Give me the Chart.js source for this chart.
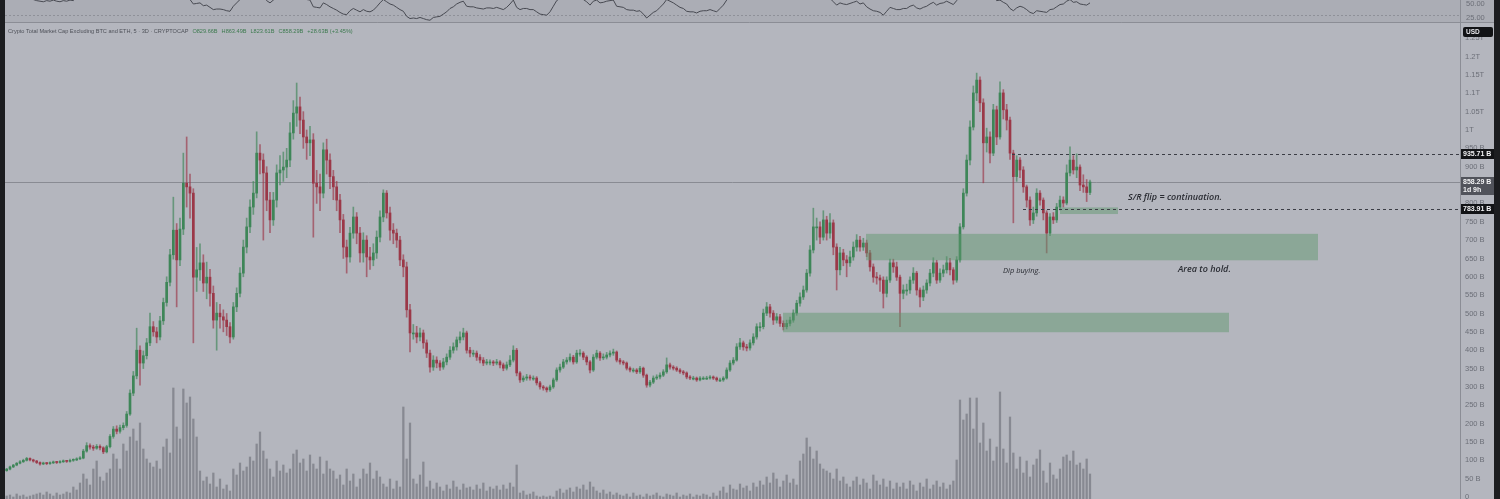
<!DOCTYPE html>
<html><head><meta charset="utf-8">
<script src="https://cdn.jsdelivr.net/npm/chart.js@4.4.1/dist/chart.umd.min.js"></script>
<style>
html,body{margin:0;padding:0;background:#1c1d20;width:1500px;height:499px;overflow:hidden;}
#rsi{position:absolute;left:5px;top:0;}
#main{position:absolute;left:5px;top:23px;}
</style></head><body>
<canvas id="rsi" width="1489" height="23"></canvas>
<canvas id="main" width="1489" height="476"></canvas>
<script>
// ---- data (billions USD), one 3D candle per entry ----
const opens = [72,76,82,87,92,96,100,105,101,98,
94,90,92,91,93,95,94,96,98,97,
100,101,104,106,125,140,136,133,138,134,
123,137,165,185,179,189,195,226,283,330,
400,365,385,420,464,450,436,480,530,585,
660,727,646,730,855,845,828,599,619,638,
583,599,555,482,501,491,482,464,436,518,
555,610,681,736,790,828,937,918,883,809,
755,809,883,891,899,918,992,1046,1063,1027,
981,965,973,855,845,828,946,918,873,845,
809,755,681,654,719,763,719,665,700,654,
646,665,708,763,828,774,727,719,700,646,
627,510,447,447,436,447,420,392,354,373,
365,354,368,381,400,409,428,436,447,400,
392,392,381,373,365,368,368,365,368,360,
351,360,373,400,338,319,324,327,324,324,
311,300,297,292,300,319,346,354,368,373,
381,368,392,392,381,368,346,381,392,379,
381,387,392,395,373,368,365,351,346,346,
341,351,332,305,313,324,327,332,341,360,
354,351,346,341,338,327,324,324,319,324,
324,324,327,324,319,319,324,346,365,373,
409,420,409,406,420,436,464,464,501,518,
501,482,491,473,464,473,482,501,528,545,
564,610,673,736,736,708,755,719,747,681,
619,665,646,638,654,681,700,681,692,665,
627,599,597,591,555,591,638,627,599,555,
564,564,591,610,564,545,564,583,610,638,
591,610,619,638,619,591,646,736,828,918,
1008,1101,1136,1074,965,981,937,1055,981,1101,
1055,1027,937,873,918,891,845,809,755,774,
828,809,774,719,763,755,790,809,801,883,
918,891,899,850,845,829.66];

const closes = [76,82,87,92,96,100,105,101,98,94,
90,92,91,93,95,94,96,98,97,100,
101,104,106,125,140,136,133,138,134,123,
137,165,185,179,189,195,226,283,330,400,
365,385,420,464,450,436,480,530,585,660,
727,646,730,855,845,828,599,619,638,583,
599,555,482,501,491,482,464,436,518,555,
610,681,736,790,828,937,918,883,809,755,
809,883,891,899,918,992,1046,1063,1027,981,
965,973,855,845,828,946,918,873,845,809,
755,681,654,719,763,719,665,700,654,646,
665,708,763,828,774,727,719,700,646,627,
510,447,447,436,447,420,392,354,373,365,
354,368,381,400,409,428,436,447,400,392,
392,381,373,365,368,368,365,368,360,351,
360,373,400,338,319,324,327,324,324,311,
300,297,292,300,319,346,354,368,373,381,
368,392,392,381,368,346,381,392,379,381,
387,392,395,373,368,365,351,346,346,341,
351,332,305,313,324,327,332,341,360,354,
351,346,341,338,327,324,324,319,324,324,
324,327,324,319,319,324,346,365,373,409,
420,409,406,420,436,464,464,501,518,501,
482,491,473,464,473,482,501,528,545,564,
610,673,736,736,708,755,719,747,681,619,
665,646,638,654,681,700,681,692,665,627,
599,597,591,555,591,638,627,599,555,564,
564,591,610,564,545,564,583,610,638,591,
610,619,638,619,591,646,736,828,918,1008,
1101,1136,1074,965,981,937,1055,981,1101,1055,
1027,937,873,918,891,845,809,755,774,828,
809,774,719,763,755,790,809,801,883,918,
891,899,850,845,829.66,858.29];

const highs = [78,84,89,94,99,103,108,107,103,100,
96,95,94,96,98,97,99,101,100,103,
104,107,110,130,148,145,141,143,142,137,
141,170,192,194,196,202,233,292,342,460,
412,398,432,501,478,462,492,542,600,675,
817,745,760,937,981,880,840,680,690,660,
640,620,575,530,525,510,500,475,530,570,
625,700,760,810,860,995,960,935,900,830,
830,905,930,940,950,1020,1080,1128,1090,1050,
1000,1010,990,890,880,965,975,935,890,860,
825,770,700,735,790,775,735,720,712,680,
690,725,780,837,835,790,745,730,710,660,
640,525,470,465,460,455,428,400,385,382,
372,378,390,410,420,436,450,460,452,408,
400,398,388,380,375,374,372,375,372,365,
368,385,412,405,342,330,334,332,330,328,
315,304,300,305,324,352,362,375,380,390,
386,400,402,396,385,372,388,400,396,390,
394,398,403,398,378,372,368,355,351,350,
356,354,335,318,330,333,338,347,379,365,
358,355,350,345,341,331,329,327,328,328,
329,331,330,327,324,328,352,372,380,418,
432,425,416,428,445,472,475,512,530,525,
508,500,498,480,482,490,510,536,556,575,
620,685,787,760,750,780,765,772,755,690,
680,675,658,670,695,715,710,705,700,672,
635,612,605,600,600,648,648,640,605,578,
580,600,625,615,570,575,592,620,652,645,
622,632,655,650,625,655,745,840,932,1025,
1120,1155,1145,1085,1005,995,1070,1065,1131,1110,
1070,1035,945,930,925,900,850,818,790,840,
835,815,780,772,775,800,820,818,905,954,
930,935,905,878,865,863.49];

const lows = [70,74,80,85,90,94,98,98,95,91,
87,88,88,89,91,91,92,94,94,95,
97,99,102,104,122,130,127,130,128,118,
120,134,160,172,174,183,190,222,276,322,
305,350,376,412,438,420,428,470,520,575,
648,518,630,715,790,760,420,560,590,560,
540,520,460,400,460,450,440,420,430,505,
545,600,665,720,770,815,880,700,780,720,
740,790,850,860,870,900,975,1010,990,950,
920,930,708,800,780,815,880,840,810,780,
720,650,610,640,705,690,640,640,600,620,
630,650,695,750,760,700,690,680,630,600,
490,395,430,420,425,405,380,340,345,352,
345,348,360,375,392,400,420,428,392,382,
383,372,365,358,360,360,358,360,352,344,
346,355,368,330,312,314,318,318,318,305,
294,291,286,288,296,315,340,350,362,368,
362,364,384,374,360,338,342,376,372,374,
376,382,386,368,362,360,346,341,340,336,
337,326,299,300,309,320,322,328,337,348,
346,342,337,333,322,320,319,315,316,320,
320,321,320,315,314,315,321,342,360,370,
402,400,398,400,414,430,452,458,494,490,
470,474,465,455,458,466,476,495,520,538,
558,602,665,700,690,700,700,705,660,564,
605,630,600,628,645,670,670,672,655,615,
585,580,560,515,545,585,612,590,464,540,
550,555,582,550,518,535,555,575,600,582,
585,600,610,605,580,585,640,730,820,905,
1000,1080,1050,856,940,910,930,960,975,1030,
1000,920,747,860,870,830,790,740,745,765,
795,755,665,712,745,748,782,790,796,875,
880,870,835,830,805,823.61];

const volumes = [3,4,2,5,3,4,2,3,4,
5,6,4,7,5,3,6,4,5,7,6,
12,9,16, 25,20,14, 30,38,22, 18,26,30, 45,40,30, 55,48,62, 70,58,76,
50,40,36, 32,38,30, 52,60,46, 111,72,60, 110,96,102, 80,62,
28,18,22,15,26, 12,20,10,14,8, 30,24,36,28,32, 42,38,55, 67,48,
40,30,22,38,28,34,26,30, 45,49,36, 40,28,44,35,30,42,25,38,30,
28,20,24,14,30,18,25,12,20, 30,25,36,20,28,22, 15,12,20,10,18,12,
92,40,76, 20,15,24,37,12,18, 10,16,12,8,14,10,18,12,9,15,11,
12,9,14,10,16,8,12,10,13,9, 14,10,16,12,34, 6,8,4,5,7,3,
2,3,2,3,2, 8,10,6,9,11,7, 12,10,14,9,17,12, 8,6,9,5,7,4,6,
4,3,5,2,6,3,4,2,5,3,4,6,3,2,5,4,3,6,2,4,3,5,2,4,3,5,4,2,6,3,
8,12,6,14,10,9,15,11,13,8,16,12, 18,14,22,16,26,20,12,18,24,16,20,14,
38,45,61,52,40,48,35,30,28, 26,20,30,18,22,15, 12,18,22,14,20,16,10,24,18,
14,20,12,18,10,16, 12,16,10,18,14,8,16,12,20,10,14,18,12,16,10,14,18,
39, 99,79, 85,101,70,101,56, 76,48,60,38,52, 107,50, 36,82,46,
30,42,26,38,22,34, 40,49,28,16,36,24, 20,30,42, 44,38,48,34, 36,30,40,25];

const rsi = [60,62,63,64,62,63,65,60,58,
56,55,54,56,55,57,55,54,56,55,57,56,
62,64,68,72,70,66,68,65,60,70,75,80,78,80,82,85,88,90,82,78,80,83,80,79,81,84,86,88,84,80,82,78,77,74,
58,50,51,52,47,48,44,40,41,41,40,38,37,46,52,58,
64,70,74,77,72,68,62,
56,52,57,
61,63,64,66,70,74,75,71,66,
58,57,45,44,43,52,49,45,42,39,35,32,31,38,42,39,36,40,37,36,39,45,52,58,
54,50,48,44,40,37,28,24,25,24,26,24,22,21,26,27,28,32,36,42,45,50,53,55,46,45,45,43,42,41,43,43,42,44,42,40,44,50,57,44,40,42,42,40,40,36,32,31,30,36,46,56,
60,62,65,66,62,68,68,
58,
54,48,55,57,52,53,55,56,57,46,45,44,40,39,39,37,38,32,25,30,35,38,44,50,58,55,52,48,44,42,37,36,36,34,37,38,38,40,38,36,42,48,57,
62,66,70,72,68,67,70,72,76,76,78,80,76,72,73,70,68,70,72,76,78,80,82,85,86,84,80,82,76,79,
60,54,48,52,50,49,51,53,55,50,52,45,41,38,37,35,30,37,44,42,40,40,42,42,46,48,43,41,44,46,50,53,48,51,52,55,52,49,56,
66,74,80,85,88,89,82,72,68,64,
62,
56,57,53,50,42,38,43,46,44,40,35,33,38,37,36,35,40,41,45,49,50,55,58,53,54,50,49,48,52];

// price-axis ticks (B)
const priceTicks = [0,50,100,150,200,250,300,350,400,450,500,550,600,650,700,750,800,850,900,950,1000,1050,1100,1150,1200,1250];
const rsiTicks = [25, 50];
const rsiLevel = 30;

// drawn zones (candle index range, value range in B)
const zoneStart = [257.8, 232.9, 316];
const zoneEnd = [393.4, 366.7, 333.4];
const zoneTop = [717, 502, 789];
const zoneBottom = [645, 449, 771];

// dashed levels
const levelValues = [935.71, 783.91];
const levelStart = [301.6, 304.9];

// notes
const noteTexts = ['S/R flip = continuation.', 'Area to hold.', 'Dip buying.'];
const noteX = [336.4, 351.4, 298.9];
const noteV = [817, 621, 616];

const lastClose = closes[closes.length - 1];

// ---- styles ----
const BG = '#b4b6be';
const RSI_BG = '#abadb5';
const GREEN = '#3e8658';
const RED = '#9b3848';
const GREEN_W = 'rgba(62,134,88,0.65)';
const RED_W = 'rgba(155,56,72,0.65)';
const ZONE = 'rgba(95,150,108,0.48)';
const AXIS_TXT = '#6c6f78';
const FONT = '"Liberation Sans", Arial, sans-serif';

const idx = closes.map((_, i) => i);
const up = i => closes[i] >= opens[i];

function fmtPrice(v) {
  if (v >= 1000) return (v / 1000) + 'T';
  if (v === 0) return '0';
  return v + ' B';
}

const overlay = {
  id: 'overlay',
  beforeDraw(chart) {
    const {ctx, width, height} = chart;
    ctx.save();
    ctx.fillStyle = BG;
    ctx.fillRect(0, 0, width, height);
    ctx.restore();
  },
  beforeDatasetsDraw(chart) {
    const {ctx, chartArea: a, scales: {y}} = chart;
    const py = Math.round(y.getPixelForValue(lastClose)) + 0.5;
    ctx.save();
    ctx.strokeStyle = 'rgba(132,134,142,0.9)';
    ctx.lineWidth = 1;
    ctx.beginPath(); ctx.moveTo(a.left, py); ctx.lineTo(a.right, py); ctx.stroke();
    ctx.restore();
  },
  afterDatasetsDraw(chart) {
    const {ctx, chartArea: a, scales: {x, y}} = chart;
    ctx.save();
    ctx.fillStyle = ZONE;
    zoneStart.forEach((s, k) => {
      const x0 = x.getPixelForValue(s), x1 = x.getPixelForValue(zoneEnd[k]);
      const y0 = y.getPixelForValue(zoneTop[k]), y1 = y.getPixelForValue(zoneBottom[k]);
      ctx.fillRect(x0, y0, x1 - x0, y1 - y0);
    });
    ctx.strokeStyle = '#3b3d45';
    ctx.lineWidth = 1;
    ctx.setLineDash([3, 3]);
    levelValues.forEach((v, k) => {
      const py = Math.round(y.getPixelForValue(v)) + 0.5;
      ctx.beginPath(); ctx.moveTo(x.getPixelForValue(levelStart[k]), py); ctx.lineTo(a.right, py); ctx.stroke();
    });
    ctx.setLineDash([]);
    ctx.fillStyle = '#2a2c33';
    ctx.textBaseline = 'middle';
    ctx.textAlign = 'left';
    noteTexts.forEach((t, k) => {
      ctx.font = k < 2 ? 'italic 600 9px "Open Sans", sans-serif' : 'italic 400 7.5px "Open Sans", sans-serif';
      ctx.fillText(t, x.getPixelForValue(noteX[k]), y.getPixelForValue(noteV[k]));
    });
    ctx.restore();
  },
  afterDraw(chart) {
    const {ctx, chartArea: a, scales: {y}} = chart;
    ctx.save();
    ctx.strokeStyle = '#8b8d95';
    ctx.lineWidth = 1;
    ctx.beginPath(); ctx.moveTo(a.right + 0.5, 0); ctx.lineTo(a.right + 0.5, chart.height); ctx.stroke();
    ctx.fillStyle = AXIS_TXT;
    ctx.font = '7.5px ' + FONT;
    ctx.textAlign = 'left';
    ctx.textBaseline = 'middle';
    priceTicks.forEach(v => {
      const py = y.getPixelForValue(v);
      if (py > 2 && py < chart.height + 4) ctx.fillText(fmtPrice(v), a.right + 5, py);
    });
    const tag = (v, fill, lines) => {
      const py = Math.round(y.getPixelForValue(v));
      const h = lines.length === 1 ? 10 : 18;
      ctx.fillStyle = fill;
      ctx.fillRect(a.right + 1, py - 5, 33, h);
      ctx.fillStyle = '#f2f2f4';
      ctx.font = 'bold 7px ' + FONT;
      lines.forEach((t, k) => ctx.fillText(t, a.right + 3, py + k * 8));
    };
    tag(levelValues[0], '#121316', [levelValues[0].toFixed(2) + ' B']);
    tag(lastClose, '#51535b', [lastClose.toFixed(2) + ' B', '1d 9h']);
    tag(levelValues[1], '#121316', [levelValues[1].toFixed(2) + ' B']);
    ctx.fillStyle = '#121316';
    ctx.beginPath();
    if (ctx.roundRect) ctx.roundRect(a.right + 3, 4, 30, 10, 2); else ctx.rect(a.right + 3, 4, 30, 10);
    ctx.fill();
    ctx.fillStyle = '#e8e8ec';
    ctx.font = 'bold 6.5px ' + FONT;
    ctx.fillText('USD', a.right + 6, 9.5);
    ctx.font = '5.6px ' + FONT;
    ctx.fillStyle = '#4e5159';
    let tx = 3;
    const title = 'Crypto Total Market Cap Excluding BTC and ETH, 5 \u00b7 3D \u00b7 CRYPTOCAP';
    ctx.fillText(title, tx, 8);
    tx += ctx.measureText(title).width + 4;
    ctx.fillStyle = '#3d7a4f';
    const o = opens[opens.length - 1], h = highs[highs.length - 1], l = lows[lows.length - 1], c = lastClose;
    const parts = ['O' + o.toFixed(2) + 'B', 'H' + h.toFixed(2) + 'B', 'L' + l.toFixed(2) + 'B', 'C' + c.toFixed(2) + 'B',
      '+' + (c - o).toFixed(2) + 'B (+' + ((c - o) / o * 100).toFixed(2) + '%)'];
    parts.forEach(p => { ctx.fillText(p, tx, 8); tx += ctx.measureText(p).width + 4; });
    ctx.restore();
  }
};

new Chart(document.getElementById('main'), {
  type: 'bar',
  data: {
    datasets: [
      {label: 'body', data: idx.map(i => ({x: i, y: [opens[i], closes[i]]})), order: 0, grouped: false,
       barThickness: 2, minBarLength: 1, backgroundColor: c => up(c.dataIndex) ? GREEN : RED, yAxisID: 'y'},
      {label: 'wick', data: idx.map(i => ({x: i, y: [lows[i], highs[i]]})), order: 1, grouped: false,
       barThickness: 1, backgroundColor: c => up(c.dataIndex) ? GREEN_W : RED_W, yAxisID: 'y'},
      {label: 'volume', data: idx.map(i => ({x: i, y: volumes[i]})), order: 2, grouped: false,
       barThickness: 1.6, backgroundColor: 'rgba(98,100,110,0.55)', yAxisID: 'v'}
    ]
  },
  options: {
    responsive: false, animation: false, devicePixelRatio: 1,
    layout: {padding: {top: 1, bottom: 0, left: 0, right: 34}},
    plugins: {legend: {display: false}, tooltip: {enabled: false}},
    scales: {
      x: {type: 'linear', min: -0.5, max: 436, offset: false, display: false},
      y: {type: 'linear', min: -5.45, max: 1288.8, display: false},
      v: {type: 'linear', min: 0, max: 475, display: false}
    }
  },
  plugins: [overlay]
});

const rsiPlugin = {
  id: 'rsiPanel',
  beforeDraw(chart) {
    const {ctx, width, height, chartArea: a, scales: {y}} = chart;
    ctx.save();
    ctx.fillStyle = RSI_BG;
    ctx.fillRect(0, 0, width, height);
    const py = Math.round(y.getPixelForValue(rsiLevel)) + 0.5;
    ctx.strokeStyle = '#8e9098';
    ctx.setLineDash([2, 2]);
    ctx.beginPath(); ctx.moveTo(a.left, py); ctx.lineTo(a.right, py); ctx.stroke();
    ctx.restore();
  },
  afterDraw(chart) {
    const {ctx, width, height, chartArea: a, scales: {y}} = chart;
    ctx.save();
    ctx.strokeStyle = '#8b8d95';
    ctx.lineWidth = 1;
    ctx.beginPath(); ctx.moveTo(a.right + 0.5, 0); ctx.lineTo(a.right + 0.5, height); ctx.stroke();
    ctx.beginPath(); ctx.moveTo(0, height - 0.5); ctx.lineTo(width, height - 0.5); ctx.stroke();
    ctx.fillStyle = AXIS_TXT;
    ctx.font = '7.5px ' + FONT;
    ctx.textBaseline = 'middle';
    rsiTicks.forEach(v => ctx.fillText(v.toFixed(2), a.right + 6, y.getPixelForValue(v)));
    ctx.restore();
  }
};

new Chart(document.getElementById('rsi'), {
  type: 'line',
  data: {datasets: [{data: idx.map(i => ({x: i, y: rsi[i]})), borderColor: '#484a52', borderWidth: 1, pointRadius: 0, tension: 0}]},
  options: {
    responsive: false, animation: false, devicePixelRatio: 1,
    layout: {padding: {top: 0, bottom: 1, left: 0, right: 34}},
    plugins: {legend: {display: false}, tooltip: {enabled: false}},
    scales: {
      x: {type: 'linear', min: -0.5, max: 436, display: false},
      y: {type: 'linear', min: 17.86, max: 57.14, display: false}
    }
  },
  plugins: [rsiPlugin]
});
</script>
</body></html>
